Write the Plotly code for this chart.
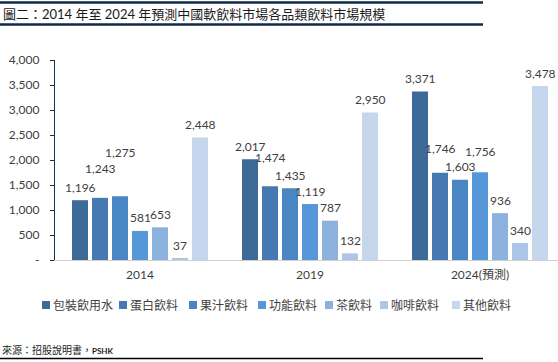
import plotly.graph_objects as go

categories = ["2014", "2019", "2024(預測)"]
series_names = ["包裝飲用水", "蛋白飲料", "果汁飲料", "功能飲料", "茶飲料", "咖啡飲料", "其他飲料"]
bottled_water = [1196, 2017, 3371]
protein = [1243, 1474, 1746]
juice = [1275, 1435, 1603]
functional = [581, 1119, 1756]
tea = [653, 787, 936]
coffee = [37, 132, 340]
others = [2448, 2950, 3478]
series_values = [bottled_water, protein, juice, functional, tea, coffee, others]
y_ticks = [0, 500, 1000, 1500, 2000, 2500, 3000, 3500, 4000]
y_tick_labels = ["-", "500", "1,000", "1,500", "2,000", "2,500", "3,000", "3,500", "4,000"]

colors = ["#3e6a98", "#4679b2", "#4a86c3", "#5597d8", "#8cb1dc", "#adc6e8", "#c6d6ec"]
# extra vertical offsets (px) for labels that were nudged to avoid overlaps
label_extra = [[0, 0, 0], [16, 16, 11], [31, 0, 0], [0, 0, 8], [0, 0, 0], [0, 0, 0], [0, 0, 0]]
# legend key left edges (px)
legend_left = [42, 119, 189, 258, 325, 380, 452]

FONT = "Lato, 'Noto Sans CJK TC', sans-serif"
TXT = "#404040"

# plot area geometry in pixels
L, T, W, H = 55, 60, 503, 200


def px(x):
    return (x - L) / W


def py(y):
    return (T + H - y) / H


fig = go.Figure()
for i, (name, vals) in enumerate(zip(series_names, series_values)):
    fig.add_trace(go.Bar(
        x=categories, y=vals, name=name,
        marker=dict(color=colors[i], line=dict(width=0)),
        hoverinfo="x+y+name", showlegend=False,
    ))

annotations = []
shapes = []
n = len(series_names)
for i, vals in enumerate(series_values):
    for j, v in enumerate(vals):
        annotations.append(dict(
            x=j, y=v, xref="x", yref="y",
            text=f"{v:,}", showarrow=False,
            xshift=(i - (n - 1) / 2) * 20,
            yshift=13 + label_extra[i][j],
            yanchor="middle", xanchor="center",
            font=dict(family=FONT, size=12, color=TXT),
        ))

# legend: colored keys + real text labels
for i, name in enumerate(series_names):
    x0 = legend_left[i]
    shapes.append(dict(type="rect", xref="paper", yref="paper",
                       x0=px(x0), x1=px(x0 + 8), y0=py(309), y1=py(301),
                       fillcolor=colors[i], line=dict(width=0)))
    annotations.append(dict(
        text=name, xref="paper", yref="paper", x=px(x0 + 9), y=py(305),
        xanchor="left", yanchor="middle", showarrow=False,
        font=dict(family=FONT, size=12, color=TXT),
    ))

# title and source
annotations.append(dict(
    text="圖二：2014 年至 2024 年預測中國軟飲料市場各品類飲料市場規模",
    xref="paper", yref="paper", x=px(1), y=py(14), xanchor="left", yanchor="middle",
    showarrow=False, font=dict(family=FONT, size=13, color="#1a1a1a"),
))
annotations.append(dict(
    text="來源：招股說明書，<b><span style='font-size:8px'>PSHK</span></b>",
    xref="paper", yref="paper", x=px(0), y=py(350), xanchor="left", yanchor="middle",
    showarrow=False, font=dict(family=FONT, size=10, color="#1a1a1a"),
))

for yy, c, w in [(2.5, "#0f2b45", 2.5), (24.5, "#0f2b45", 2.5), (358.5, "#000000", 1.5)]:
    shapes.append(dict(type="line", xref="paper", yref="paper", x0=px(0), x1=px(483),
                       y0=py(yy), y1=py(yy), line=dict(color=c, width=w)))

fig.update_layout(
    width=558, height=362,
    margin=dict(l=L, r=558 - L - W, t=T, b=362 - T - H, autoexpand=False),
    paper_bgcolor="white", plot_bgcolor="white",
    barmode="group", bargap=30 / 170, bargroupgap=0.2,
    font=dict(family=FONT, size=12, color=TXT),
    showlegend=False,
    annotations=annotations,
    shapes=shapes,
    xaxis=dict(
        type="category", range=[-0.5, -0.5 + W / 170],
        showline=True, linecolor="#d0d0d0", linewidth=1,
        ticks="", showgrid=False, tickfont=dict(family=FONT, size=12, color=TXT),
        ticklabelstandoff=4, automargin=False,
        fixedrange=True,
    ),
    yaxis=dict(
        range=[0, 4000], tickvals=y_ticks, ticktext=y_tick_labels,
        showline=True, linecolor="#17324f", linewidth=1.3,
        ticks="outside", ticklen=4, tickcolor="#17324f",
        ticklabelstandoff=8, automargin=False,
        showgrid=False, zeroline=False,
        tickfont=dict(family=FONT, size=12, color=TXT),
        fixedrange=True,
    ),
)

fig.write_html(
    "out.html",
    config={"displayModeBar": False},
    post_script="document.body.style.margin='0';document.body.style.overflow='hidden';",
)
